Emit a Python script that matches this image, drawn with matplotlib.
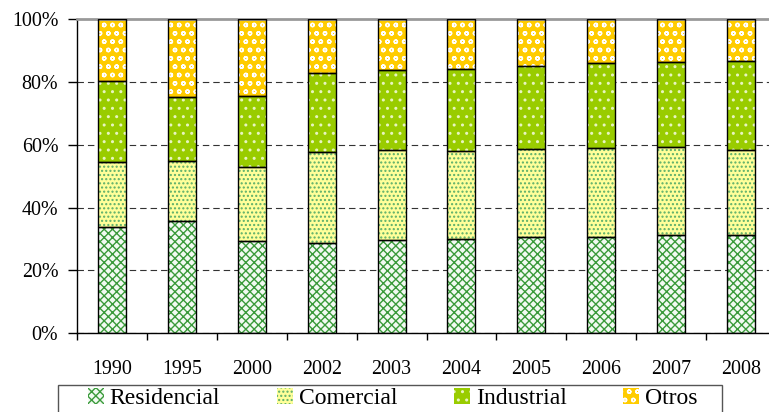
import numpy as np
import matplotlib
matplotlib.use("Agg")
import matplotlib.pyplot as plt
from matplotlib.patches import Patch, Rectangle
from matplotlib.ticker import FixedLocator

# Data (share of each sector, %)
years = ["1990", "1995", "2000", "2002", "2003", "2004", "2005", "2006", "2007", "2008"]
residencial = [33.7, 35.8, 29.4, 28.6, 29.7, 30.1, 30.6, 30.7, 31.2, 31.4]
comercial = [20.7, 19.1, 23.6, 29.0, 28.5, 28.0, 28.1, 28.3, 28.1, 26.8]
industrial = [26.0, 20.2, 22.6, 25.1, 25.5, 26.0, 26.4, 26.9, 26.9, 28.3]
otros = [100 - r - c - i for r, c, i in zip(residencial, comercial, industrial)]

labels = ["Residencial", "Comercial", "Industrial", "Otros"]
series = [residencial, comercial, industrial, otros]
# (face colour, hatch colour, hatch)
styles = [
    ("#F2FAF2", "#3A9A3A", "xxxx"),
    ("#FFFF99", "#5AAE6A", "...."),
    ("#99CC00", "#E8F5C0", ".."),
    ("#FFCC00", "#FFFFFF", "oo"),
]

plt.rcParams["font.family"] = ["Liberation Serif", "DejaVu Serif"]
plt.rcParams["hatch.linewidth"] = 1.0

fig = plt.figure(figsize=(7.69, 4.12), dpi=100)
ax = fig.add_axes([77 / 769, 1 - 333.3 / 412, 1 - 77 / 769, (333.3 - 19) / 412])

x = np.arange(len(years))
width = 0.4
bottom = np.zeros(len(years))
for vals, (fc, hc, h) in zip(series, styles):
    ax.bar(x, vals, width, bottom=bottom, color=fc, edgecolor=hc, hatch=h,
           linewidth=0, zorder=2)
    ax.bar(x, vals, width, bottom=bottom, fill=False, edgecolor="black",
           linewidth=1.0, zorder=3)
    bottom += np.array(vals)

ax.set_xlim(-0.5, -0.5 + 692 / 69.9)
ax.set_ylim(0, 100)
ax.set_yticks([0, 20, 40, 60, 80, 100])
ax.set_yticklabels([f"{v}%" for v in [0, 20, 40, 60, 80, 100]])
ax.set_xticks(x)
ax.set_xticklabels(years)
ax.xaxis.set_minor_locator(FixedLocator(np.arange(-0.5, 10, 1)))
ax.tick_params(axis="x", which="major", length=0, pad=19, labelsize=14.4)
ax.tick_params(axis="x", which="minor", length=5, width=1, direction="out")
ax.tick_params(axis="y", length=6.5, width=1, pad=7, labelsize=14.4)

ax.yaxis.grid(True, linestyle=(0, (5.8, 3.6)), color="#333333", linewidth=0.8)
ax.set_axisbelow(True)
for g in ax.get_ygridlines()[-1:]:
    g.set_visible(False)

ax.spines["right"].set_visible(False)
ax.spines["top"].set_color("#999999")
ax.spines["top"].set_linewidth(2)
ax.spines["left"].set_linewidth(1)
ax.spines["bottom"].set_linewidth(1)

handles = [Patch(facecolor=fc, edgecolor=hc, hatch=h, linewidth=0)
           for fc, hc, h in styles]
leg = fig.legend(handles, labels, loc="upper left", ncol=4,
                 bbox_to_anchor=(71 / 769, 1 - 371 / 412),
                 frameon=False, fontsize=17, handlelength=0.68,
                 handleheight=0.68, handletextpad=0.25, columnspacing=2.4,
                 borderpad=0.2)
fig.patches.append(Rectangle((58 / 769, 1 - 440 / 412), (722 - 58) / 769, 55 / 412,
                             transform=fig.transFigure, fill=False,
                             edgecolor="#555555", linewidth=1))

fig.savefig("out.png", dpi=100)
